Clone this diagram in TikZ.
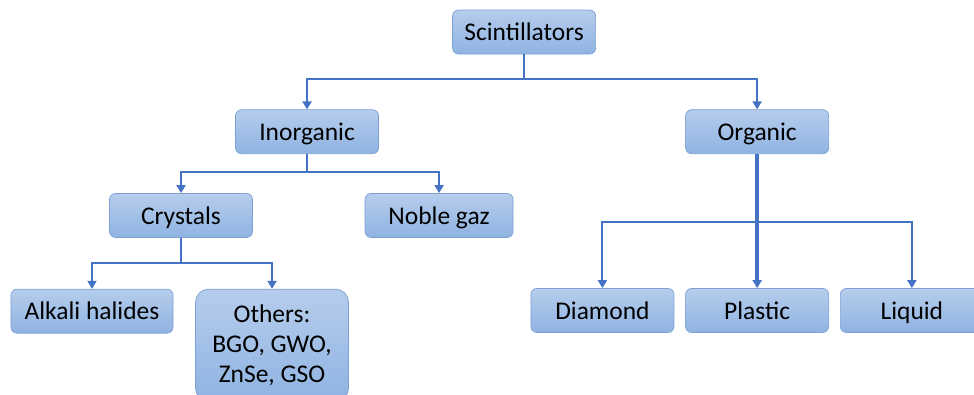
\documentclass[tikz,border=0pt]{standalone}
\usepackage{fontspec}
\setmainfont{Carlito}
\usepackage{tikz}
\usetikzlibrary{arrows.meta,positioning}
\definecolor{boxtop}{RGB}{182,205,236}
\definecolor{boxbot}{RGB}{143,179,226}
\definecolor{boxline}{RGB}{124,160,212}
\definecolor{link}{RGB}{68,114,196}
\tikzset{
  box/.style={draw=boxline, rounded corners=1.2mm, align=center, top color=boxtop, bottom color=boxbot,
    minimum width=28.6mm, minimum height=8.8mm, text height=1.2em, text depth=0.22em,
    font=\fontsize{14.5}{17.2}\selectfont},
  arrow/.style={-{Triangle[width=1.8mm,length=1.6mm]}, draw=link, line width=0.4mm},
  bold arrow/.style={arrow, line width=0.7mm},
}

\begin{document}
\begin{tikzpicture}
  \useasboundingbox (-10.48,0.64) rectangle (8.996,-7.24);
  % Nodes
  \node[box] (scint) at (0,0) {Scintillators};
  \node[box, below=11mm of scint, xshift=-43.4mm] (inorg) {Inorganic};
  \node[box, below=11mm of scint, xshift=46.6mm] (org) {Organic};
  \node[box, below=7.8mm of inorg, xshift=-25.2mm] (crys) {Crystals};
  \node[box, below=7.8mm of inorg, xshift=26.4mm, minimum width=29.6mm] (noble) {Noble gaz};
  \node[box, below=10.2mm of crys, xshift=-17.8mm, minimum width=32.4mm] (alkali) {Alkali halides};
  \node[box, below=10.2mm of crys, xshift=18.2mm, minimum width=30.6mm, minimum height=22.4mm,
    text height={}, text depth={}, rounded corners=2.6mm] (others) {Others:\\BGO, GWO,\\ZnSe, GSO};
  \node[box, below=26.8mm of org] (plastic) {Plastic};
  \node[box, left=2.2mm of plastic] (diamond) {Diamond};
  \node[box, right=2.2mm of plastic] (liquid) {Liquid};

  % Arrows
  \draw[arrow] (scint.south) -- ++(0,-5mm) -| (inorg.north);
  \draw[arrow] (scint.south) -- ++(0,-5mm) -| (org.north);
  \draw[arrow] (inorg.south) -- ++(0,-3.6mm) -| (crys.north);
  \draw[arrow] (inorg.south) -- ++(0,-3.6mm) -| (noble.north);
  \draw[arrow] (crys.south) -- ++(0,-5mm) -| (alkali.north);
  \draw[arrow] (crys.south) -- ++(0,-5mm) -| (others.north);
  \draw[arrow] (org.south) -- ++(0,-13.6mm) -| (diamond.north);
  \draw[arrow] (org.south) -- ++(0,-13.6mm) -| (liquid.north);
  \draw[bold arrow] (org) -- (plastic);
\end{tikzpicture}
\end{document}
